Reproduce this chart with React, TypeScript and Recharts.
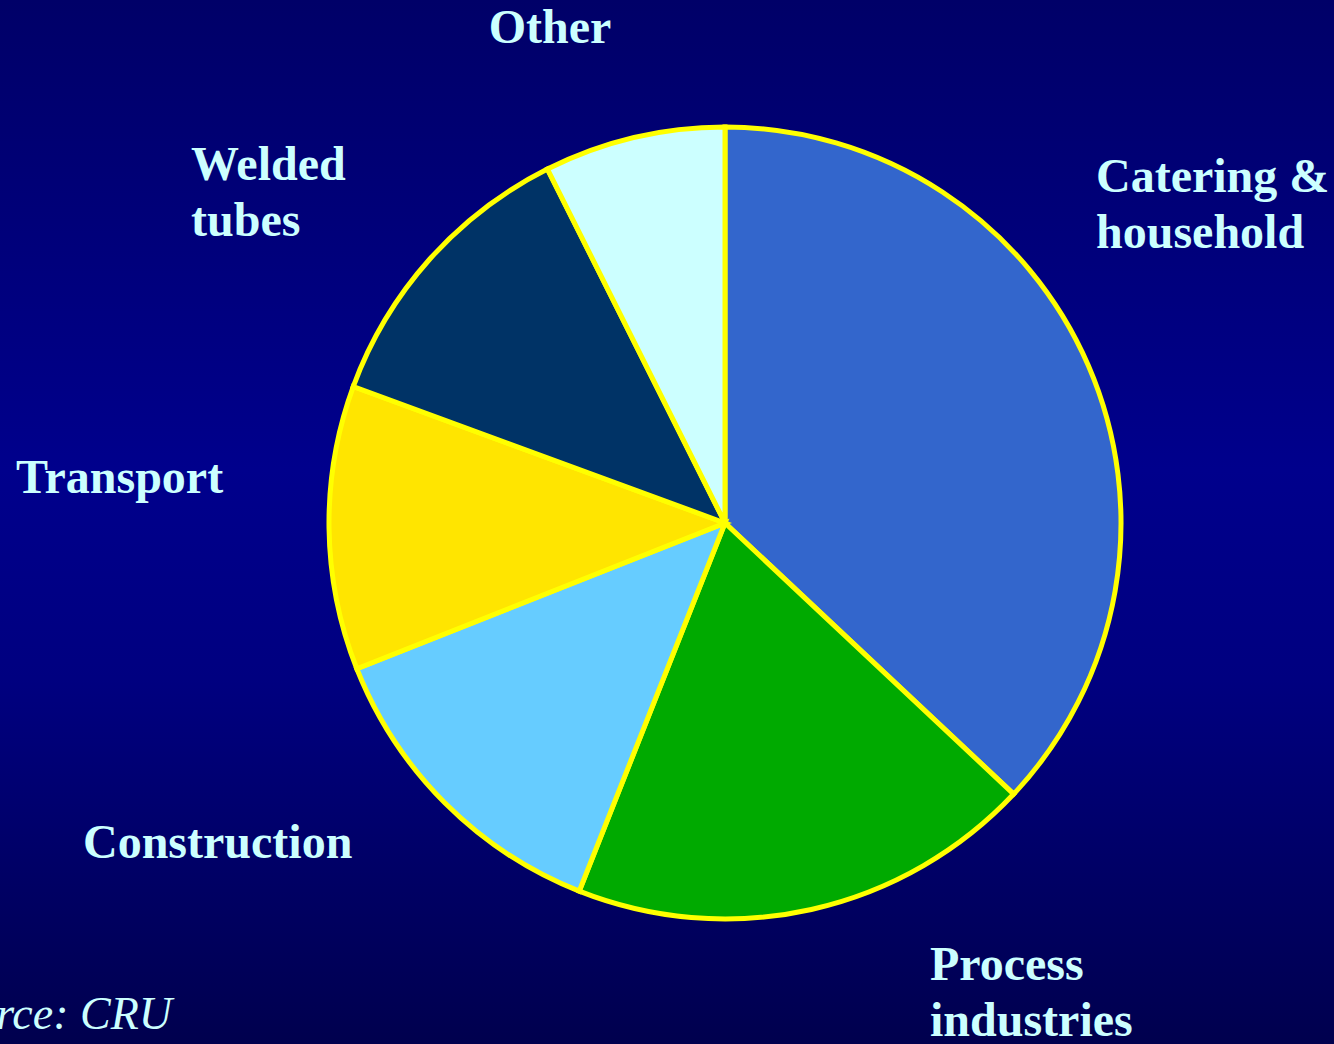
import { PieChart, Pie, Cell } from 'recharts';

// Categorias e participações (%)
const categories = ["Catering &\nhousehold", "Process\nindustries", "Construction", "Transport", "Welded\ntubes", "Other"];
const shares = [37, 19, 13, 11.6, 12, 7.4];
const colors = ["#3366CC", "#00AA00", "#66CCFF", "#FFE500", "#003366", "#CCFFFF"];

const data = categories.map((name, i) => ({ name, value: shares[i] }));

const W = 1334;
const H = 1044;
const CX = 725;
const CY = 523;
const R = 396;

// deslocamento dos rótulos em relação ao centro da pizza
const labelOffsets = [
  { dx: 371, dy: -331, anchor: "start" },
  { dx: 205, dy: 457, anchor: "start" },
  { dx: -642, dy: 335, anchor: "start" },
  { dx: -709, dy: -30, anchor: "start" },
  { dx: -534, dy: -343, anchor: "start" },
  { dx: -175, dy: -480, anchor: "middle" },
];

const labelColor = "#CCFFFF";
const fontFamily = '"Liberation Serif", "Times New Roman", serif';

const renderLabel = (props: any) => {
  const { index } = props;
  const cx = props.cx ?? CX;
  const cy = props.cy ?? CY;
  const off = labelOffsets[index];
  const lines = categories[index].split("\n");
  return (
    <text
      x={cx + off.dx}
      y={cy + off.dy}
      textAnchor={off.anchor}
      fill={labelColor}
      fontFamily={fontFamily}
      fontWeight="bold"
      fontSize={48}
    >
      {lines.map((l, i) => (
        <tspan key={i} x={cx + off.dx} dy={i === 0 ? 0 : 56}>{l}</tspan>
      ))}
    </text>
  );
};

export default function App() {
  return (
    <div style={{
      position: "absolute",
      left: 0,
      top: 0,
      width: W,
      height: H,
      overflow: "hidden",
      background: "linear-gradient(to bottom, #000068 0%, #00008C 45%, #000080 65%, #00004E 100%)",
    }}>
      <PieChart width={W} height={H} margin={{ top: 0, right: 0, bottom: 0, left: 0 }}>
        <Pie
          data={data}
          dataKey="value"
          nameKey="name"
          cx={CX}
          cy={CY}
          outerRadius={R}
          startAngle={90}
          endAngle={-270}
          stroke="#FFFF00"
          strokeWidth={5}
          labelLine={false}
          label={renderLabel}
          isAnimationActive={false}
        >
          {data.map((d, i) => (
            <Cell key={d.name} fill={colors[i]} />
          ))}
        </Pie>
      </PieChart>
      <div style={{
        position: "absolute",
        right: W - 172,
        top: 988,
        whiteSpace: "nowrap",
        color: labelColor,
        fontFamily,
        fontStyle: "italic",
        fontSize: 46,
        lineHeight: "52px",
      }}>Source: CRU</div>
    </div>
  );
}
